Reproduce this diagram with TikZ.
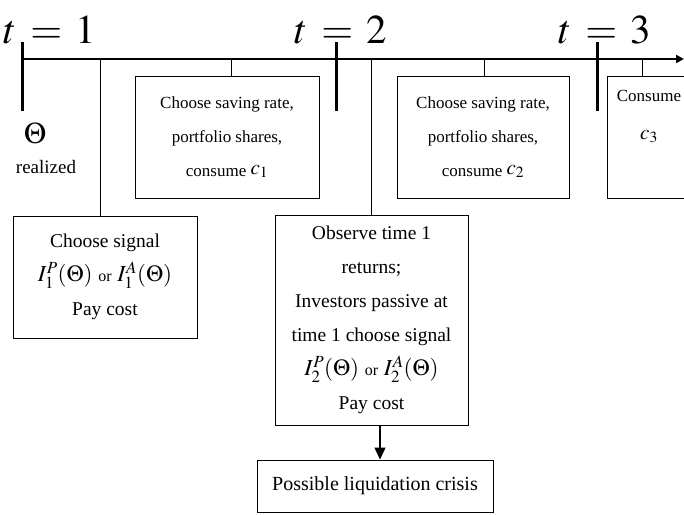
\documentclass[tikz,border=0pt]{standalone}
\usepackage{mathptmx}
\usepackage[no-math]{fontspec}
\setmainfont{Liberation Serif}
\usetikzlibrary{arrows.meta, calc}

\tikzset{
  evbox/.style={draw, line width=1pt, inner sep=0pt, align=center},
  topbox/.style={evbox, minimum height=122pt, font=\fontsize{17}{34}\selectfont},
  lowbox/.style={evbox, font=\fontsize{19.5}{34}\selectfont},
  tick/.style={line width=3pt},
  link/.style={line width=1pt},
  timelab/.style={anchor=base, font=\fontsize{41}{41}\selectfont}
}
\newcommand{\sigform}[1]{{\fontsize{23}{23}\selectfont$I_{#1}^{P}(\Theta)$ {\fontsize{16}{16}\selectfont or} $I_{#1}^{A}(\Theta)$}}

\begin{document}
\begin{tikzpicture}[x=1pt,y=-1pt]
      \useasboundingbox (0,0) rectangle (684,514);

      \coordinate (t1) at (22,59);
      \coordinate (t2) at (336,59);
      \coordinate (t3) at (597,59);
      \coordinate (tend) at (684,59);

      \draw[line width=2.3pt,-{Triangle[length=8pt,width=8pt]}] (t1) -- (tend);
      \draw[tick] ([yshift=17pt]t1) -- ([yshift=-52pt]t1);
      \draw[tick] ([yshift=17pt]t2) -- ([yshift=-52pt]t2);
      \draw[tick] ([yshift=17pt]t3) -- ([yshift=-52pt]t3);

      \node[timelab] (lab1) at (50,43) {$t\,=\,1$};
      \node[timelab] (lab2) at (341,43) {$t\,=\,2$};
      \node[timelab] (lab3) at (605,43) {$t\,=\,3$};

      \node (theta) at (35,133) {\fontsize{30}{30}\selectfont$\Theta$};
      \node (real) at (46,167) {\fontsize{19}{19}\selectfont realized};

      % boxes on the time line
      \node[topbox, minimum width=184pt] (save1) at (227,137)
        {Choose saving rate,\\ portfolio shares,\\ consume \raisebox{2pt}{\fontsize{21}{21}\selectfont$c_{1}$}};
      \node[topbox, minimum width=172pt] (save2) at (483,137)
        {Choose saving rate,\\ portfolio shares,\\ consume \raisebox{2pt}{\fontsize{21}{21}\selectfont$c_{2}$}};
      \node[topbox, minimum width=84pt] (cons3) at (649,137)
        {Consume\\[4pt] {\fontsize{21}{21}\selectfont$c_{3}$}\\ \strut};

      % boxes below
      \node[lowbox, minimum width=184pt, minimum height=122pt] (sig1) at (105,277)
        {Choose signal\\ \sigform{1}\\ Pay cost};
      \node[lowbox, minimum width=193pt, minimum height=210pt] (obs) at (371.5,320)
        {Observe time 1\\ returns;\\ Investors passive at\\ time 1 choose signal\\ \sigform{2}\\ Pay cost};
      \node[lowbox, minimum width=236pt, minimum height=52pt, font=\fontsize{20}{20}\selectfont] (liq) at (375,486)
        {Possible liquidation crisis};

      \draw[link] ([xshift=-5pt]sig1.north) -- ([xshift=-5pt]sig1.north |- t1);
      \draw[link] ([xshift=4pt]save1.north) -- ([xshift=4pt]save1.north |- t1);
      \draw[link] (obs.north) -- (obs.north |- t1);
      \draw[link] ([xshift=1pt]save2.north) -- ([xshift=1pt]save2.north |- t1);
      \draw[link] ([xshift=-7pt]cons3.north) -- ([xshift=-7pt]cons3.north |- t1);

      \draw[line width=1.5pt,-{Triangle[length=12pt,width=11pt]}] ([xshift=8.5pt]obs.south) -- ([xshift=5pt]liq.north);
    \end{tikzpicture}
\end{document}
